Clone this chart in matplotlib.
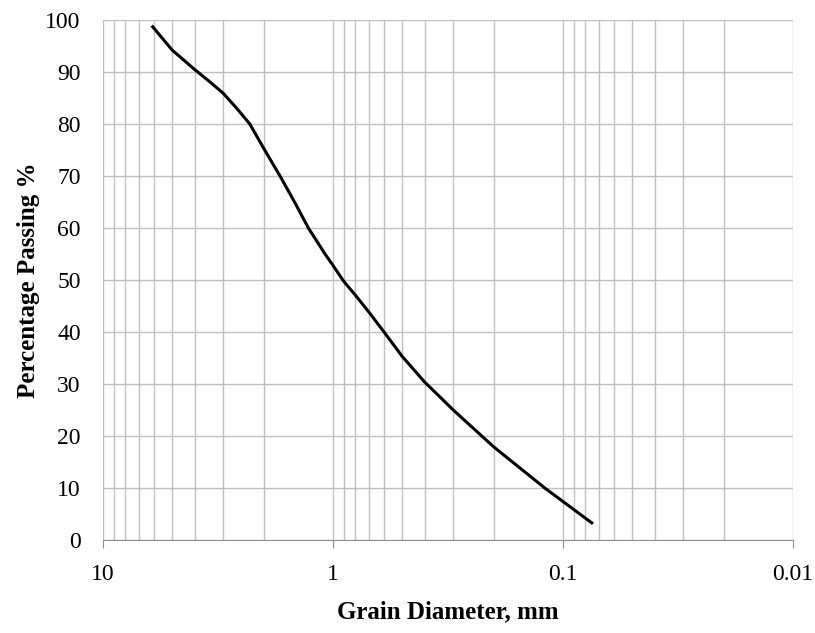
import matplotlib.pyplot as plt
import numpy as np
from matplotlib.ticker import LogLocator, FixedLocator, NullFormatter

# grain size distribution
diameter = [6.08, 5.0, 4.0, 3.43, 3.0, 2.62, 2.3, 2.0, 1.70, 1.47, 1.28, 1.083, 1.0,
            0.9, 0.8, 0.7, 0.6, 0.5, 0.4, 0.3, 0.2, 0.12, 0.1, 0.075]
passing = [98.7, 94.2, 90.5, 88.1, 85.9, 83.0, 80, 75.3, 70, 65, 60, 55, 52.8,
           49.8, 47.1, 43.9, 40, 35.3, 30.4, 25, 17.9, 10, 7.4, 3.3]

x_ticks = [10, 1, 0.1, 0.01]
x_labels = ["10", "1", "0.1", "0.01"]

plt.rcParams['font.family'] = ['Liberation Serif', 'DejaVu Serif']

fig = plt.figure(figsize=(8.15, 6.33), dpi=100)
ax = fig.add_axes([0.1264, 0.1469, 0.8466, 0.8215])

ax.plot(diameter, passing, color='black', lw=2.2, solid_joinstyle='round')

ax.set_xscale('log')
ax.set_xlim(10, 0.01)
ax.set_ylim(0, 100)

ax.xaxis.set_major_locator(FixedLocator(x_ticks))
ax.set_xticks(x_ticks, x_labels)
ax.xaxis.set_minor_locator(LogLocator(base=10, subs=np.arange(2, 10)))
ax.xaxis.set_minor_formatter(NullFormatter())
ax.set_yticks(np.arange(0, 101, 10))

ax.grid(True, which='both', axis='x', color='#c0c0c0', lw=1.0)
ax.grid(True, which='major', axis='y', color='#c0c0c0', lw=1.0)
ax.set_axisbelow(True)

for s in ['top', 'right', 'left']:
    ax.spines[s].set_visible(False)
ax.spines['bottom'].set_color('#909090')

ax.tick_params(axis='x', which='major', length=6, color='#909090', labelsize=17, pad=11)
ax.tick_params(axis='y', which='both', length=0, labelsize=17, pad=16)
ax.tick_params(axis='x', which='minor', length=0)

ax.set_xlabel('Grain Diameter, mm', fontsize=18, fontweight='bold', labelpad=11)
ax.set_ylabel('Percentage Passing %', fontsize=18, fontweight='bold', labelpad=4)

fig.savefig('out.png', dpi=100)
